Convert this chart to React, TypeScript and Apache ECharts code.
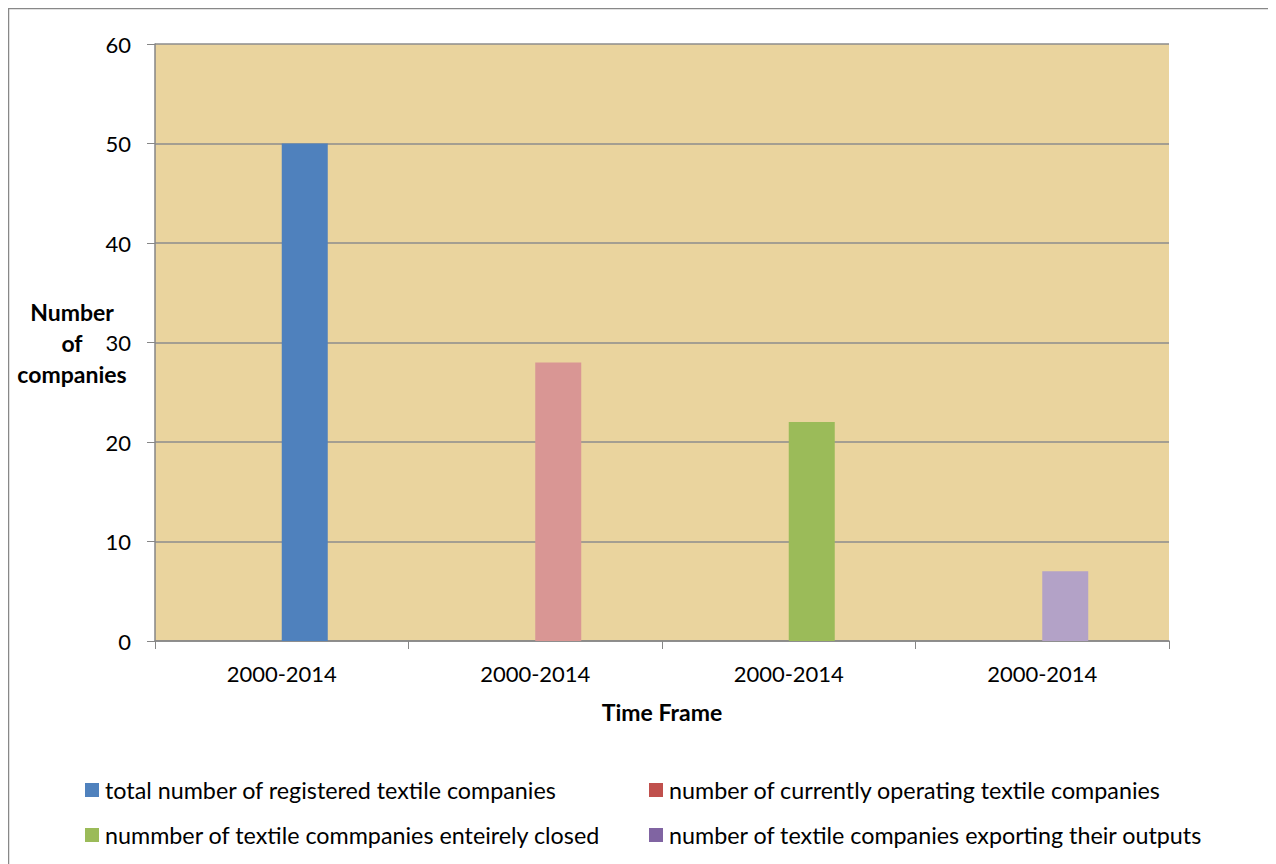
import React, { useEffect, useRef } from "react";
import * as echarts from "echarts";

const categories = ["2000-2014", "2000-2014", "2000-2014", "2000-2014"];
const seriesNames = [
  "total number of registered textile companies",
  "number of currently operating textile companies",
  "nummber of textile commpanies enteirely closed",
  "number of textile companies exporting their outputs",
];
const seriesValues = [50, 28, 22, 7];
const legendColors = ["#4F81BD", "#C0504D", "#9BBB59", "#8064A2"];
const barColors = ["#4F81BD", "#D99694", "#9BBB59", "#B3A2C7"];
const yTicks = { min: 0, max: 60, interval: 10 };

const FONT = "Lato, 'Open Sans', sans-serif";

export default function App() {
  const ref = useRef<HTMLDivElement>(null);
  useEffect(() => {
    if (!ref.current) return;
    const chart = echarts.init(ref.current, undefined, { renderer: "svg" });
    const realSeries = seriesNames.map((name, i) => ({
      name,
      type: "bar",
      stack: "real",
      barWidth: 46,
      barGap: "0%",
      itemStyle: { color: legendColors[i] },
      data: categories.map((_, j) =>
        j === i ? { value: seriesValues[i], itemStyle: { color: barColors[i] } } : "-"
      ),
    }));
    const legendBase = {
      orient: "vertical",
      top: 769,
      padding: 0,
      itemWidth: 14,
      itemHeight: 14,
      itemGap: 19,
      icon: "rect",
      selectedMode: false,
      textStyle: { fontSize: 23.3, color: "#000", fontFamily: FONT, lineHeight: 26, padding: [0, 0, 0, 1] },
    };
    chart.setOption({
      animation: false,
      textStyle: { fontFamily: FONT },
      grid: {
        left: 147,
        top: 36,
        width: 1014,
        height: 597,
        show: true,
        backgroundColor: "#EAD49E",
        borderWidth: 0,
      },
      xAxis: {
        type: "category",
        data: categories,
        axisLine: { lineStyle: { color: "#868686", width: 1.5 } },
        axisTick: { show: true, length: 8, alignWithLabel: false, lineStyle: { color: "#868686" } },
        axisLabel: { color: "#000", fontSize: 22, margin: 21, fontFamily: FONT },
      },
      yAxis: {
        type: "value",
        min: yTicks.min,
        max: yTicks.max,
        interval: yTicks.interval,
        axisLine: { show: true, lineStyle: { color: "#868686", width: 1.5 } },
        axisTick: { show: true, length: 8, lineStyle: { color: "#868686" } },
        axisLabel: { color: "#000", fontSize: 22, margin: 24, fontFamily: FONT },
        splitLine: { show: true, lineStyle: { color: "#8C8C8C", width: 1.5 } },
      },
      legend: [
        {
          ...legendBase,
          left: 77,
          data: [0, 2].map((i) => ({ name: seriesNames[i], itemStyle: { color: legendColors[i] } })),
        },
        {
          ...legendBase,
          left: 641,
          data: [1, 3].map((i) => ({ name: seriesNames[i], itemStyle: { color: legendColors[i] } })),
        },
      ],
      graphic: [
        {
          type: "rect",
          silent: true,
          shape: { x: 0.5, y: 0.5, width: 1261, height: 900 },
          style: { fill: "none", stroke: "#888888", lineWidth: 1.5 },
        },
        {
          type: "text",
          x: 64,
          y: 335,
          style: {
            text: "Number\nof\ncompanies",
            fontSize: 23,
            fontWeight: "bold",
            fontFamily: FONT,
            fill: "#000",
            align: "center",
            verticalAlign: "middle",
            lineHeight: 31,
          },
        },
        {
          type: "text",
          x: 654,
          y: 704,
          style: {
            text: "Time Frame",
            fontSize: 23,
            fontWeight: "bold",
            fontFamily: FONT,
            fill: "#000",
            align: "center",
            verticalAlign: "middle",
          },
        },
      ],
      series: [
        {
          name: "_spacer",
          type: "bar",
          stack: "spacer",
          barWidth: 46,
          barGap: "0%",
          data: categories.map(() => "-"),
        },
        ...realSeries,
      ],
    });
    return () => chart.dispose();
  }, []);
  return <div ref={ref} style={{ width: 1262, height: 870 }} />;
}
